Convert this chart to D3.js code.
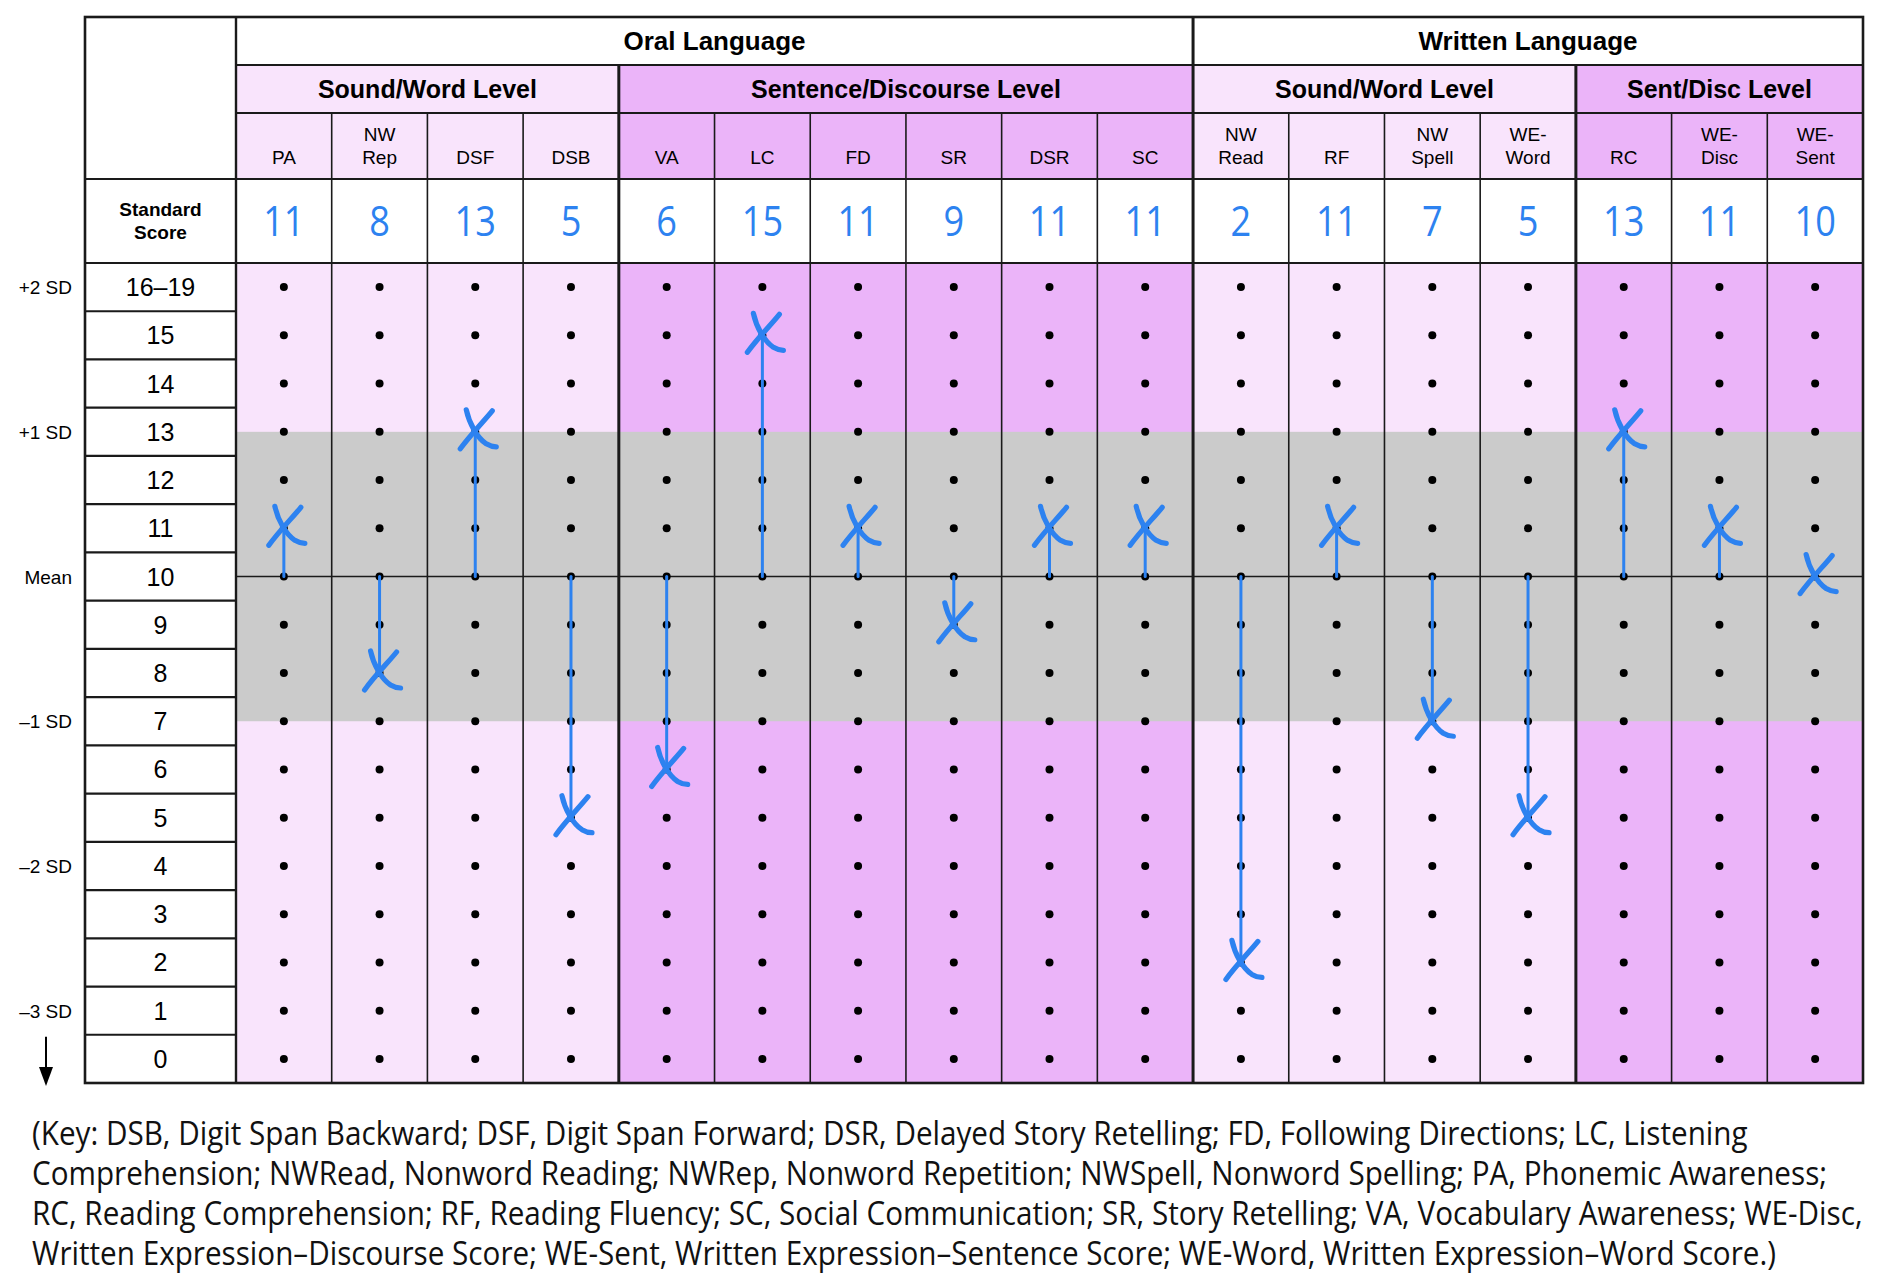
<!DOCTYPE html>
<html>
<head>
<meta charset="utf-8">
<script src="https://cdn.jsdelivr.net/npm/d3@7"></script>
<style>
  body { margin: 0; background: #fff; }
  svg { display: block; }
</style>
</head>
<body>
<div id="chart"></div>
<script>
// Profile data
const domainNames = ["Oral Language", "Written Language"];
const domainSpans = [10, 7];

const levelNames = ["Sound/Word Level", "Sentence/Discourse Level", "Sound/Word Level", "Sent/Disc Level"];
const levelSpans = [4, 6, 4, 3];
const levelTones = ["light", "dark", "light", "dark"];

const subtests = ["PA", "NW\nRep", "DSF", "DSB", "VA", "LC", "FD", "SR", "DSR", "SC",
                  "NW\nRead", "RF", "NW\nSpell", "WE-\nWord", "RC", "WE-\nDisc", "WE-\nSent"];
const scores = [11, 8, 13, 5, 6, 15, 11, 9, 11, 11, 2, 11, 7, 5, 13, 11, 10];

const rowLabels = ["16–19", "15", "14", "13", "12", "11", "10", "9", "8", "7", "6", "5", "4", "3", "2", "1", "0"];
const sdRows = ["16–19", "13", "10", "7", "4", "1"];
const sdTexts = ["+2 SD", "+1 SD", "Mean", "–1 SD", "–2 SD", "–3 SD"];

const meanScore = 10;
const bandScores = [13, 7];  // average range shaded grey

const keyLines = [
  "(Key: DSB, Digit Span Backward; DSF, Digit Span Forward; DSR, Delayed Story Retelling; FD, Following Directions; LC, Listening",
  "Comprehension; NWRead, Nonword Reading; NWRep, Nonword Repetition; NWSpell, Nonword Spelling; PA, Phonemic Awareness;",
  "RC, Reading Comprehension; RF, Reading Fluency; SC, Social Communication; SR, Story Retelling; VA, Vocabulary Awareness; WE-Disc,",
  "Written Expression–Discourse Score; WE-Sent, Written Expression–Sentence Score; WE-Word, Written Expression–Word Score.)"
];

// ---- layout
const W = 1881, H = 1283;
const tableLeft = 85, tableRight = 1863, labelRight = 236;
const yTop = 17, yLevel = 65, ySub = 113, yScore = 179, yData = 263, yBottom = 1083;

const colors = {
  light: "#f9e4fc",
  dark: "#ebb4f9",
  grey: "#cbcbcb",
  blue: "#2d82f0",
  line: "#1a1a1a"
};
const headFont = "'Liberation Sans', Arial, Helvetica, sans-serif";

const svg = d3.select("#chart").append("svg")
  .attr("width", W)
  .attr("height", H)
  .style("background", "#fff");

const x = d3.scaleBand()
  .domain(d3.range(subtests.length))
  .range([labelRight, tableRight]);

const y = d3.scaleBand()
  .domain(rowLabels)
  .range([yData, yBottom]);

const cx = i => x(i) + x.bandwidth() / 2;
const cy = v => y(String(v)) + y.bandwidth() / 2;

// tone of each column from the level spans
const colTone = [];
levelSpans.forEach((s, k) => { for (let j = 0; j < s; j++) colTone.push(levelTones[k]); });

// cumulative starts
const levelStart = levelSpans.map((s, k) => d3.sum(levelSpans.slice(0, k)));
const domainStart = domainSpans.map((s, k) => d3.sum(domainSpans.slice(0, k)));
const colEdge = i => (i >= subtests.length ? tableRight : x(i));

// ---- backgrounds
const gBg = svg.append("g");

gBg.selectAll("rect.level")
  .data(levelNames)
  .enter().append("rect")
    .attr("x", (d, k) => colEdge(levelStart[k]))
    .attr("y", yLevel)
    .attr("width", (d, k) => colEdge(levelStart[k] + levelSpans[k]) - colEdge(levelStart[k]))
    .attr("height", ySub - yLevel)
    .attr("fill", (d, k) => colors[levelTones[k]]);

gBg.selectAll("rect.sub")
  .data(subtests)
  .enter().append("rect")
    .attr("x", (d, i) => x(i))
    .attr("y", ySub)
    .attr("width", x.bandwidth())
    .attr("height", yScore - ySub)
    .attr("fill", (d, i) => colors[colTone[i]]);

gBg.selectAll("rect.col")
  .data(subtests)
  .enter().append("rect")
    .attr("x", (d, i) => x(i))
    .attr("y", yData)
    .attr("width", x.bandwidth())
    .attr("height", yBottom - yData)
    .attr("fill", (d, i) => colors[colTone[i]]);

gBg.append("rect")
  .attr("x", labelRight)
  .attr("y", cy(bandScores[0]))
  .attr("width", tableRight - labelRight)
  .attr("height", cy(bandScores[1]) - cy(bandScores[0]))
  .attr("fill", colors.grey);

// ---- grid lines
const gGrid = svg.append("g").attr("stroke", colors.line).attr("fill", "none");

// thin column separators
gGrid.selectAll("line.col")
  .data(d3.range(1, subtests.length))
  .enter().append("line")
    .attr("x1", i => x(i)).attr("x2", i => x(i))
    .attr("y1", ySub).attr("y2", yBottom)
    .attr("stroke-width", 1.6);

// mean line
gGrid.append("line")
  .attr("x1", labelRight).attr("x2", tableRight)
  .attr("y1", cy(meanScore)).attr("y2", cy(meanScore))
  .attr("stroke-width", 1.6);

// horizontal header lines
[[yLevel, labelRight], [ySub, labelRight], [yScore, tableLeft], [yData, tableLeft]].forEach(([yy, x0]) => {
  gGrid.append("line")
    .attr("x1", x0).attr("x2", tableRight)
    .attr("y1", yy).attr("y2", yy)
    .attr("stroke-width", 2.2);
});

// row label separators
gGrid.selectAll("line.row")
  .data(rowLabels.slice(1))
  .enter().append("line")
    .attr("x1", tableLeft).attr("x2", labelRight)
    .attr("y1", d => y(d)).attr("y2", d => y(d))
    .attr("stroke-width", 2.2);

// level boundaries (thick)
levelStart.slice(1).forEach(s => {
  const isDomain = domainStart.includes(s);
  gGrid.append("line")
    .attr("x1", x(s)).attr("x2", x(s))
    .attr("y1", isDomain ? yTop : yLevel).attr("y2", yBottom)
    .attr("stroke-width", 3);
});

// label column edge and outer frame
gGrid.append("line")
  .attr("x1", labelRight).attr("x2", labelRight)
  .attr("y1", yTop).attr("y2", yBottom)
  .attr("stroke-width", 2.4);

gGrid.append("rect")
  .attr("x", tableLeft).attr("y", yTop)
  .attr("width", tableRight - tableLeft)
  .attr("height", yBottom - yTop)
  .attr("stroke-width", 2.6);

// ---- dots
const gDots = svg.append("g");
subtests.forEach((s, i) => {
  gDots.selectAll(null)
    .data(rowLabels)
    .enter().append("circle")
      .attr("cx", cx(i))
      .attr("cy", d => y(d) + y.bandwidth() / 2)
      .attr("r", 4)
      .attr("fill", "#000");
});

// ---- header text
const gText = svg.append("g").attr("font-family", headFont).attr("text-anchor", "middle");

gText.selectAll("text.domain")
  .data(domainNames)
  .enter().append("text")
    .attr("x", (d, k) => (colEdge(domainStart[k]) + colEdge(domainStart[k] + domainSpans[k])) / 2)
    .attr("y", (yTop + yLevel) / 2 + 9)
    .attr("font-size", 26)
    .attr("font-weight", "bold")
    .text(d => d);

gText.selectAll("text.level")
  .data(levelNames)
  .enter().append("text")
    .attr("x", (d, k) => (colEdge(levelStart[k]) + colEdge(levelStart[k] + levelSpans[k])) / 2)
    .attr("y", (yLevel + ySub) / 2 + 9)
    .attr("font-size", 25)
    .attr("font-weight", "bold")
    .text(d => d);

subtests.forEach((s, i) => {
  const lines = s.split("\n");
  lines.forEach((ln, j) => {
    gText.append("text")
      .attr("x", cx(i))
      .attr("y", 164 - (lines.length - 1 - j) * 23)
      .attr("font-size", 19)
      .text(ln);
  });
});

gText.append("text")
  .attr("x", (tableLeft + labelRight) / 2)
  .attr("y", 216)
  .attr("font-size", 19)
  .attr("font-weight", "bold")
  .text("Standard");
gText.append("text")
  .attr("x", (tableLeft + labelRight) / 2)
  .attr("y", 239)
  .attr("font-size", 19)
  .attr("font-weight", "bold")
  .text("Score");

// score numbers
svg.append("g").selectAll("text")
  .data(scores)
  .enter().append("text")
    .attr("x", (d, i) => cx(i))
    .attr("y", (yScore + yData) / 2 + 15)
    .attr("text-anchor", "middle")
    .attr("font-family", "'Open Sans', 'Noto Sans', sans-serif")
    .attr("font-size", 42)
    .attr("fill", colors.blue)
    .attr("transform", (d, i) => `translate(${cx(i)},0) scale(0.86,1) translate(${-cx(i)},0)`)
    .text(d => d);

// row labels
gText.selectAll("text.rowlab")
  .data(rowLabels)
  .enter().append("text")
    .attr("x", (tableLeft + labelRight) / 2)
    .attr("y", d => y(d) + y.bandwidth() / 2 + 9)
    .attr("font-size", 25)
    .text(d => d);

// SD labels
svg.append("g").selectAll("text")
  .data(sdTexts)
  .enter().append("text")
    .attr("x", 72)
    .attr("y", (d, k) => y(sdRows[k]) + y.bandwidth() / 2 + 7)
    .attr("text-anchor", "end")
    .attr("font-family", headFont)
    .attr("font-size", 19)
    .text(d => d);

// down arrow under -3 SD
const ax = 46;
svg.append("line")
  .attr("x1", ax).attr("x2", ax)
  .attr("y1", y("0") + 2).attr("y2", yBottom - 10)
  .attr("stroke", "#000").attr("stroke-width", 2);
svg.append("path")
  .attr("d", `M${ax - 7},${yBottom - 16} L${ax + 7},${yBottom - 16} L${ax},${yBottom + 3} Z`)
  .attr("fill", "#000");

// ---- score marks: stem from the mean plus a hand-drawn cross
const gMarks = svg.append("g")
  .attr("stroke", colors.blue)
  .attr("fill", "none")
  .attr("stroke-linecap", "round");

scores.forEach((s, i) => {
  if (s !== meanScore) {
    gMarks.append("line")
      .attr("x1", cx(i)).attr("x2", cx(i))
      .attr("y1", cy(meanScore)).attr("y2", cy(s))
      .attr("stroke-width", 3);
  }
  const g = gMarks.append("g")
    .attr("transform", `translate(${cx(i)},${cy(s)})`)
    .attr("stroke-width", 5.2);
  // stroke from upper right to lower left, slightly bowed
  g.append("path").attr("d", "M17,-21 C9,-11 -5,3 -15,17");
  // stroke from upper left sweeping down to the lower right
  g.append("path").attr("d", "M-9,-22 C-6,-8 2,6 11,12 Q16,15 21,15");
});

// ---- key
const gKey = svg.append("g")
  .attr("font-family", "'Open Sans', 'Noto Sans', sans-serif")
  .attr("font-size", 32)
  .attr("fill", "#111");

const keyText = gKey.selectAll("text")
  .data(keyLines)
  .enter().append("text")
    .attr("x", 0)
    .attr("y", (d, k) => 1145 + k * 40)
    .text(d => d);

const widest = d3.max(keyText.nodes(), n => n.getComputedTextLength());
const sx = (tableRight - 32) / widest;
keyText.attr("transform", `translate(32,0) scale(${sx},1)`);
</script>
</body>
</html>
